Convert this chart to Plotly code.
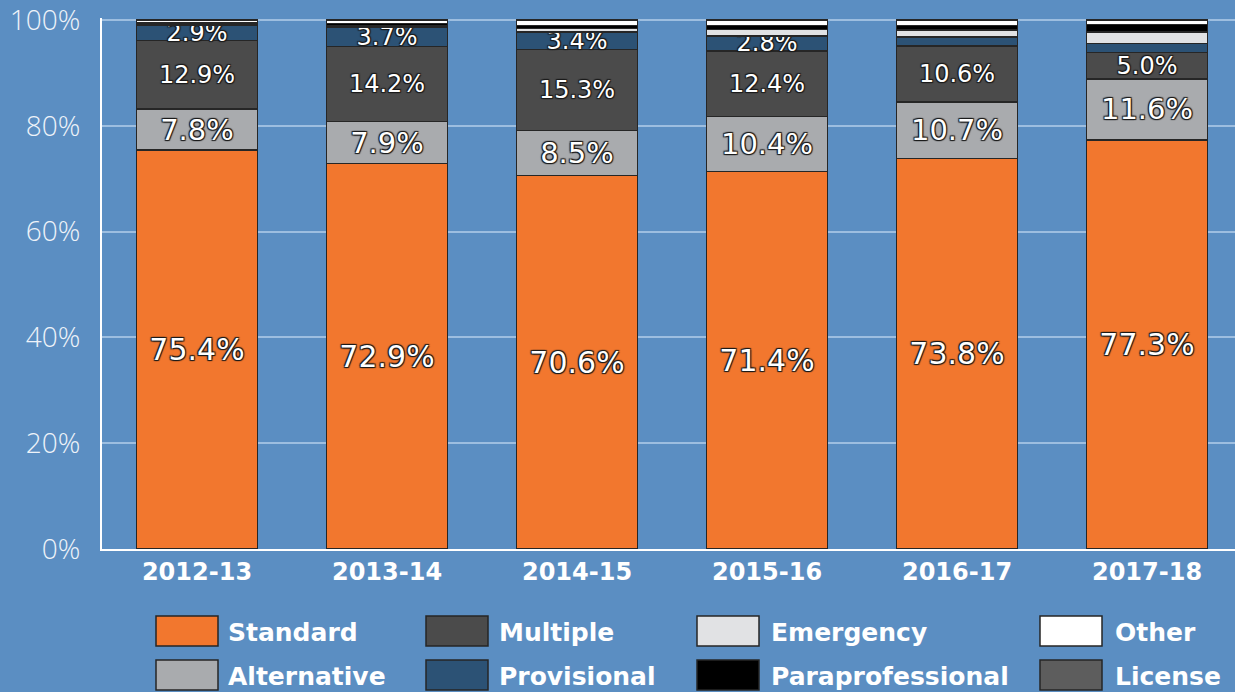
import plotly.graph_objects as go

years = ["2012-13", "2013-14", "2014-15", "2015-16", "2016-17", "2017-18"]
standard = [75.4, 72.9, 70.6, 71.4, 73.8, 77.3]
alternative = [7.8, 7.9, 8.5, 10.4, 10.7, 11.6]
multiple = [12.9, 14.2, 15.3, 12.4, 10.6, 5.0]
provisional = [2.9, 3.7, 3.4, 2.8, 1.7, 1.7]
emergency = [0.1, 0.2, 0.6, 1.2, 1.3, 2.2]
paraprofessional = [0.4, 0.5, 0.6, 0.8, 0.9, 1.4]
other = [0.5, 0.6, 1.0, 1.0, 1.0, 0.8]
license_ = [0, 0, 0, 0, 0, 0]
y_ticks = [0, 20, 40, 60, 80, 100]
y_tick_labels = ["0%", "20%", "40%", "60%", "80%", "100%"]

series = [
    ("Standard", standard, "#f2772e", 30),
    ("Alternative", alternative, "#a9abae", 29),
    ("Multiple", multiple, "#4b4b4b", 24),
    ("Provisional", provisional, "#2c5275", 24),
    ("Emergency", emergency, "#e1e2e4", 24),
    ("Paraprofessional", paraprofessional, "#000000", 24),
    ("Other", other, "#ffffff", 24),
    ("License", license_, "#5d5d5d", 24),
]

SHADOW = "1px 1px 1px #1a1a1a, -1px -1px 1px #1a1a1a, 1px -1px 1px #1a1a1a, -1px 1px 1px #1a1a1a"

fig = go.Figure()
for name, vals, color, fs in series:
    txt = [f"{v:.1f}%" if v >= 2.5 else "" for v in vals]
    fig.add_trace(go.Bar(
        x=years, y=vals, name=name,
        marker=dict(color=color, line=dict(color="#262626", width=1.5)),
        text=txt, texttemplate="%{text}", textposition="inside",
        insidetextanchor="middle", constraintext="none",
        textfont=dict(family="DejaVu Sans", size=fs, color="white", shadow=SHADOW),
        hoverinfo="skip", showlegend=False,
    ))

W, H = 1235, 692
L, R, T, B = 102, 0, 18, 143
pw, ph = W - L - R, H - T - B

def px(x):
    return (x - L) / pw

def py(y):
    return (H - B - y) / ph

# legend layout (4 columns x 2 rows)
legend_order = [
    ("Standard", 0, 0), ("Multiple", 1, 0), ("Emergency", 2, 0), ("Other", 3, 0),
    ("Alternative", 0, 1), ("Provisional", 1, 1), ("Paraprofessional", 2, 1), ("License", 3, 1),
]
col_x = [156, 426, 697, 1040]
text_x = [226, 497, 769, 1113]
row_y = [616, 660]
colors = {n: c for n, _, c, _ in series}
shapes = []
annotations = []
for name, c, r in legend_order:
    x0 = col_x[c]
    y0 = row_y[r]
    shapes.append(dict(type="rect", xref="paper", yref="paper",
                       x0=px(x0), x1=px(x0 + 62), y0=py(y0 + 30), y1=py(y0),
                       fillcolor=colors[name], line=dict(color="#262626", width=1.5)))
    annotations.append(dict(xref="paper", yref="paper", x=px(text_x[c]), y=py(y0 + 16),
                            text=f"<b>{name}</b>", showarrow=False, xanchor="left",
                            yanchor="middle",
                            font=dict(family="DejaVu Sans", size=25, color="white")))

fig.update_layout(
    width=W, height=H,
    margin=dict(l=L, r=R, t=T, b=B),
    barmode="stack", bargap=0.363,
    paper_bgcolor="#5b8ec2", plot_bgcolor="rgba(0,0,0,0)",
    xaxis=dict(range=[-0.5, 5.463], showgrid=False, ticks="",
               showline=True, linecolor="white", linewidth=2,
               tickfont=dict(family="DejaVu Sans", size=24, color="white", weight="bold")),
    yaxis=dict(range=[0, 100.4], tickvals=y_ticks, ticktext=y_tick_labels,
               showgrid=True, gridcolor="#9dbee0", gridwidth=2, zeroline=False,
               showline=True, linecolor="white", linewidth=2,
               ticks="", ticklabelstandoff=14, ticklabeloverflow="allow",
               tickfont=dict(family="Open Sans", size=28, color="#eef3f9", weight=300)),
    shapes=shapes, annotations=annotations,
)

fig.write_html("out.html", config={"displayModeBar": False},
               post_script="document.body.style.margin='0';document.body.style.overflow='hidden';")
